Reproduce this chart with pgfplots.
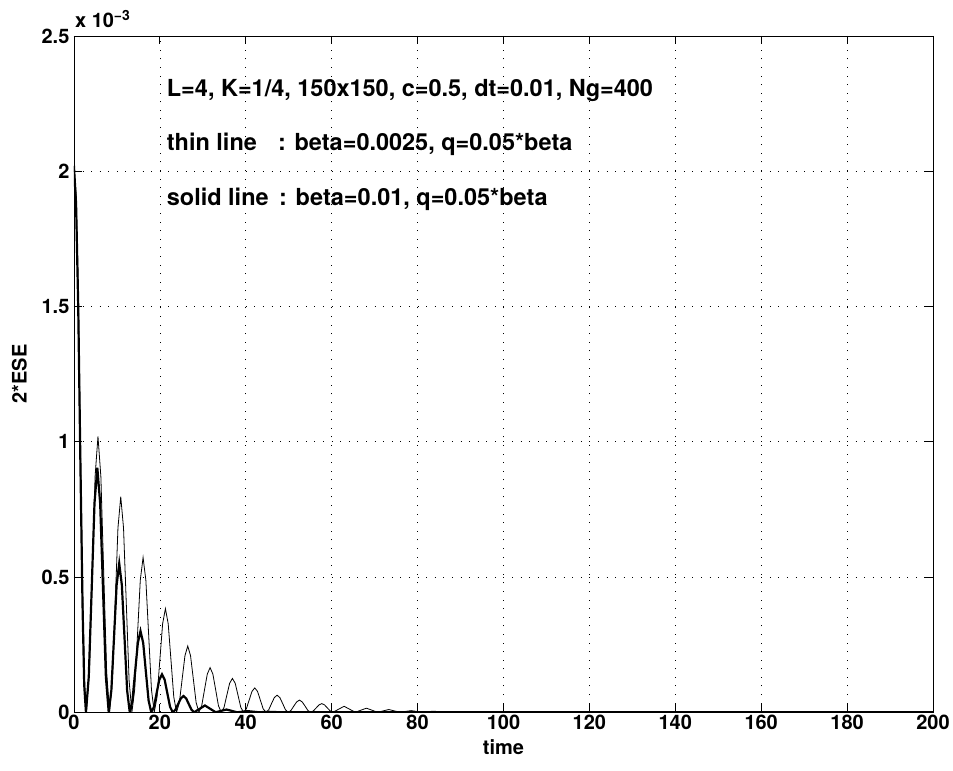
\documentclass[border=0pt]{standalone}
\usepackage{pgfplots}
\pgfplotsset{compat=1.18}
\usepackage{fontspec}
\setmainfont{TeX Gyre Heros}
\newcommand{\fnt}{\bfseries\fontsize{20}{23}\selectfont}
\newcommand{\tfnt}{\bfseries\fontsize{23.5}{27}\selectfont}
\begin{document}
\begin{tikzpicture}[x=1pt,y=1pt]
\begin{axis}[
  scale only axis, width=860pt, height=677pt,
  xmin=0, xmax=200, ymin=0, ymax=2.5,
  xtick={0,20,...,200}, ytick={0,0.5,1,1.5,2,2.5},
  grid=major,
  major grid style={black, line width=0.6pt, dash pattern=on 1pt off 7.6pt},
  tick align=inside, major tick length=8pt,
  axis line style={line width=0.8pt},
  every tick/.style={black, line width=0.8pt},
  ticklabel style={font=\fnt},
  xticklabel style={yshift=1pt},
  /pgf/number format/assume math mode=true,
  yticklabel style={/pgf/number format/fixed, xshift=-1pt},
  label style={font=\fnt},
  xlabel={time}, ylabel={2*ESE},
  xlabel style={yshift=-3pt},
  ylabel style={yshift=8pt},
  clip mode=individual,
]
\coordinate (O) at (rel axis cs:0,0);
\coordinate (T) at (rel axis cs:0,1);
% thin line: beta=0.0025
\addplot[black, line width=0.8pt] coordinates {
(0,2.02)(0.5,1.92)(1.0,1.58)(1.5,1.00)(2.0,0.46)(2.5,0.10)(2.9,0)
(3.575,0.149)(4.25,0.51)(4.925,0.871)(5.6,1.02)(6.275,0.871)(6.95,0.51)(7.625,0.149)(8.3,0)
(8.95,0.116)(9.6,0.399)(10.25,0.681)(10.9,0.797)(11.55,0.681)(12.2,0.399)(12.85,0.116)(13.5,0)
(14.15,0.084)(14.8,0.286)(15.45,0.488)(16.1,0.572)(16.75,0.488)(17.4,0.286)(18.05,0.084)(18.7,0)
(19.35,0.056)(20.0,0.192)(20.65,0.327)(21.3,0.383)(21.95,0.327)(22.6,0.192)(23.25,0.056)(23.9,0)
(24.55,0.036)(25.2,0.123)(25.85,0.209)(26.5,0.245)(27.15,0.209)(27.8,0.123)(28.45,0.036)(29.1,0)
(29.75,0.024)(30.4,0.083)(31.05,0.141)(31.7,0.165)(32.35,0.141)(33.0,0.083)(33.65,0.024)(34.3,0)
(34.95,0.018)(35.6,0.063)(36.25,0.107)(36.9,0.125)(37.55,0.107)(38.2,0.063)(38.85,0.018)(39.5,0)
(40.15,0.013)(40.8,0.045)(41.45,0.077)(42.1,0.090)(42.75,0.077)(43.4,0.045)(44.05,0.013)(44.7,0)
(45.35,0.009)(46.0,0.032)(46.65,0.054)(47.3,0.063)(47.95,0.054)(48.6,0.032)(49.25,0.009)(49.9,0)
(50.55,0.007)(51.2,0.023)(51.85,0.038)(52.5,0.045)(53.15,0.038)(53.8,0.023)(54.45,0.007)(55.1,0)
(55.75,0.005)(56.4,0.016)(57.05,0.027)(57.7,0.032)(58.35,0.027)(59.0,0.016)(59.65,0.005)(60.3,0)
(61.6,0.011)(62.9,0.022)(64.2,0.011)(65.5,0)
(66.8,0.0075)(68.1,0.015)(69.4,0.0075)(70.7,0)
(72.0,0.005)(73.3,0.010)(74.6,0.005)(75.9,0)
(77.2,0.003)(78.5,0.006)(79.8,0.003)(81.1,0)
(83.7,0.004)(86.3,0)(88.9,0.002)(91.5,0)(200,0)
};
% solid line: beta=0.01
\addplot[black, line width=2.2pt] coordinates {
(0,2.02)(0.5,1.88)(1.0,1.50)(1.5,0.93)(2.0,0.40)(2.4,0.10)(2.8,0)
(3.46,0.132)(4.13,0.452)(4.79,0.772)(5.45,0.904)(6.11,0.772)(6.78,0.452)(7.44,0.132)(8.1,0)
(8.71,0.080)(9.33,0.275)(9.94,0.470)(10.55,0.550)(11.16,0.470)(11.78,0.275)(12.39,0.080)(13.0,0)
(13.63,0.044)(14.25,0.150)(14.88,0.256)(15.5,0.300)(16.13,0.256)(16.75,0.150)(17.38,0.044)(18.0,0)
(18.63,0.020)(19.25,0.070)(19.88,0.120)(20.5,0.140)(21.13,0.120)(21.75,0.070)(22.38,0.020)(23.0,0)
(23.63,0.009)(24.25,0.030)(24.88,0.051)(25.5,0.060)(26.13,0.051)(26.75,0.030)(27.38,0.009)(28.0,0)
(29.25,0.0125)(30.5,0.025)(31.75,0.0125)(33.0,0)
(35.5,0.010)(38.0,0)(40.5,0.004)(43.0,0)(45.5,0.0015)(48.0,0)(200,0)
};
\node[anchor=west, font=\tfnt, inner sep=0pt] at (axis cs:21.6,2.30) {L=4, K=1/4, 150x150, c=0.5, dt=0.01, Ng=400};
\node[anchor=west, font=\tfnt, inner sep=0pt] at (axis cs:21.6,2.10) {thin line\hspace{0.9em}: beta=0.0025, q=0.05*beta};
\node[anchor=west, font=\tfnt, inner sep=0pt] at (axis cs:21.6,1.895) {solid line\hspace{0.45em}: beta=0.01, q=0.05*beta};
\end{axis}
\node[anchor=south west, font=\fnt, inner sep=0pt] at ([xshift=1pt,yshift=8pt]T) {x 10\textsuperscript{−3}};
\path (O) ++(-74pt,-58pt) rectangle ++(953pt,771pt);
\end{tikzpicture}
\end{document}
